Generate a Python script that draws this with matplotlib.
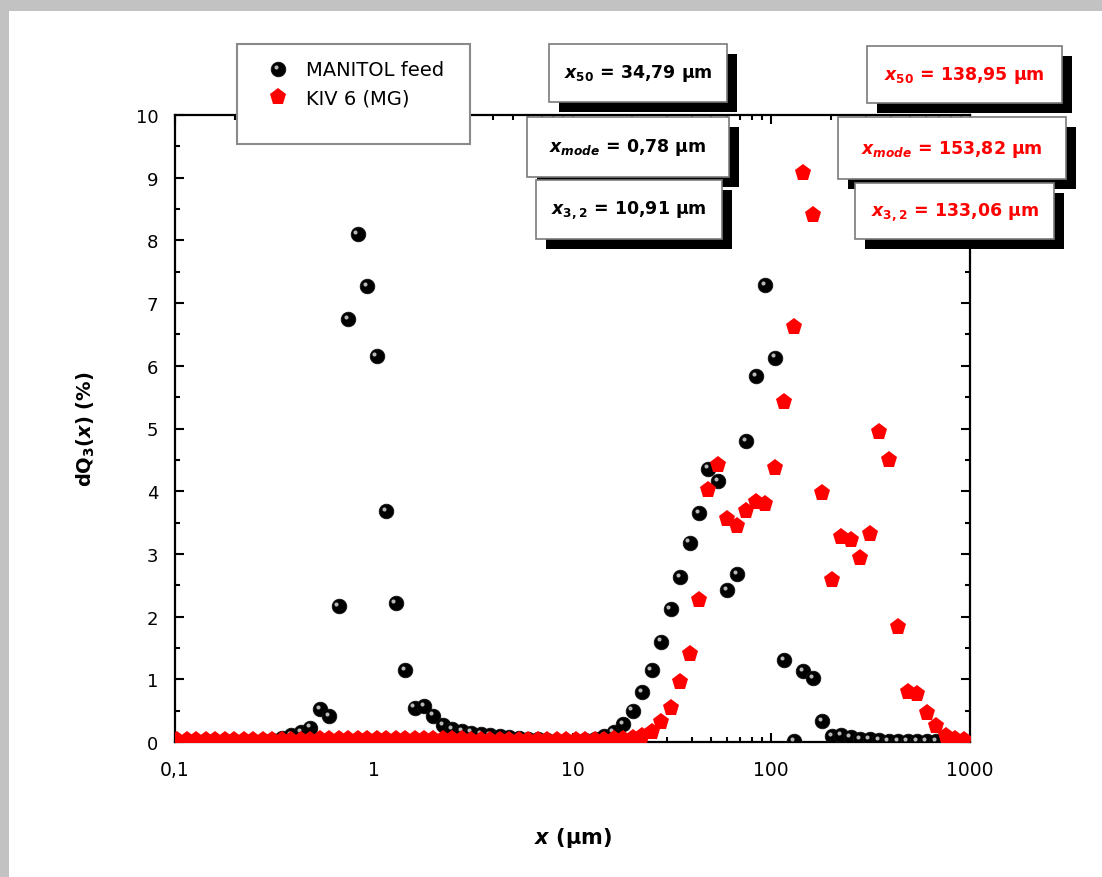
import matplotlib
matplotlib.use('Agg')
import numpy as np
import matplotlib.pyplot as plt
from matplotlib.patches import Rectangle
from matplotlib.ticker import LogLocator, NullFormatter, MultipleLocator
from matplotlib.transforms import offset_copy

plt.rcParams['font.family'] = ['DejaVu Sans']
plt.rcParams['mathtext.fontset'] = 'custom'
plt.rcParams['mathtext.rm'] = 'DejaVu Sans:bold'
plt.rcParams['mathtext.it'] = 'DejaVu Sans:italic:bold'
plt.rcParams['mathtext.bf'] = 'DejaVu Sans:bold'

# particle size classes (um)
size_um = [0.1029, 0.1149, 0.1282, 0.1431, 0.1597, 0.1783, 0.1990, 0.2221, 0.2478, 0.2766,
           0.3087, 0.3446, 0.3846, 0.4292, 0.4790, 0.5347, 0.5968, 0.6661, 0.7434, 0.8297,
           0.9261, 1.0336, 1.1536, 1.2875, 1.4370, 1.6039, 1.7901, 1.998, 2.230, 2.489,
           2.778, 3.100, 3.460, 3.862, 4.310, 4.811, 5.369, 5.993, 6.689, 7.465,
           8.332, 9.300, 10.38, 11.58, 12.93, 14.43, 16.11, 17.98, 20.06, 22.39,
           24.99, 27.90, 31.13, 34.75, 38.79, 43.29, 48.31, 53.92, 60.19, 67.17,
           74.97, 83.68, 93.40, 104.2, 116.3, 129.8, 144.9, 161.8, 180.5, 201.5,
           224.9, 251.0, 280.2, 312.7, 349.0, 389.6, 434.8, 485.3, 541.6, 604.5,
           674.7, 753.1, 840.5, 938.1]

# dQ3 (%) MANITOL feed
manitol_feed = [0.0, 0.0, 0.0, 0.0, 0.0, 0.0, 0.0, 0.0, 0.0, 0.0,
                0.03, 0.06, 0.11, 0.16, 0.23, 0.52, 0.41, 2.17, 6.75, 8.10,
                7.27, 6.15, 3.68, 2.22, 1.15, 0.55, 0.57, 0.42, 0.27, 0.20,
                0.17, 0.15, 0.13, 0.11, 0.09, 0.08, 0.06, 0.05, 0.04, 0.03,
                0.02, 0.02, 0.02, 0.03, 0.05, 0.10, 0.16, 0.29, 0.50, 0.80,
                1.15, 1.60, 2.12, 2.63, 3.18, 3.65, 4.36, 4.16, 2.42, 2.68,
                4.80, 5.83, 7.29, 6.13, 1.31, 0.02, 1.13, 1.02, 0.33, 0.09,
                0.11, 0.08, 0.05, 0.04, 0.03, 0.02, 0.02, 0.02, 0.02, 0.02,
                0.01, np.nan, np.nan, np.nan]

# dQ3 (%) KIV 6 (MG)
kiv6_mg = [0.03, 0.03, 0.03, 0.03, 0.03, 0.03, 0.03, 0.03, 0.03, 0.03,
           0.03, 0.03, 0.03, 0.03, 0.03, 0.05, 0.05, 0.05, 0.05, 0.05,
           0.05, 0.05, 0.05, 0.05, 0.05, 0.05, 0.05, 0.05, 0.05, 0.05,
           0.05, 0.03, 0.03, 0.03, 0.03, 0.03, 0.03, 0.03, 0.03, 0.03,
           0.03, 0.03, 0.03, 0.03, 0.03, 0.03, 0.04, 0.05, 0.07, 0.10,
           0.16, 0.32, 0.55, 0.95, 1.40, 2.27, 4.02, 4.42, 3.56, 3.44,
           3.68, 3.82, 3.79, 4.37, 5.43, 6.62, 9.08, 8.40, 3.97, 2.58,
           3.27, 3.22, 2.94, 3.31, 4.94, 4.49, 1.83, 0.80, 0.76, 0.47,
           0.25, 0.10, 0.05, 0.03]

labels = ['MANITOL feed', 'KIV 6 (MG)']
stats_black = [r'$x_{50}$ = 34,79 μm', r'$x_{mode}$ = 0,78 μm', r'$x_{3,2}$ = 10,91 μm']
stats_red = [r'$x_{50}$ = 138,95 μm', r'$x_{mode}$ = 153,82 μm', r'$x_{3,2}$ = 133,06 μm']

W, H = 1102, 878
fig = plt.figure(figsize=(W / 100, H / 100), dpi=100)

# page background with grey shadow border
bg = fig.add_axes([0, 0, 1, 1], zorder=-1)
bg.set_xlim(0, W)
bg.set_ylim(H, 0)
bg.axis('off')
bg.add_patch(Rectangle((0, 0), W, H, fc='#c2c2c2', ec='none'))
bg.add_patch(Rectangle((9, 12), W, H, fc='white', ec='none'))

ax = fig.add_axes([175 / W, 1 - 743 / H, 795 / W, 627 / H])


def balls(a, x, y, size, tr=None, z=3):
    tr = tr if tr is not None else a.transData
    a.plot(x, y, 'o', color='black', ms=size, mec='#111111', mew=0.6, transform=tr, zorder=z)
    hl = offset_copy(tr, fig=fig, x=-2.2, y=2.2, units='dots')
    a.plot(x, y, 'o', color='#b8b8b8', ms=size * 0.28, mew=0, transform=hl, zorder=z + 0.1)


balls(ax, size_um, manitol_feed, 10.5)
ax.plot(size_um, kiv6_mg, 'p', color='#ff0000', ms=12.5, mew=0, zorder=4)

ax.set_xscale('log')
ax.set_xlim(0.1, 1000)
ax.set_ylim(0, 10)
ax.set_xticks([0.1, 1, 10, 100, 1000])
ax.set_xticklabels(['0,1', '1', '10', '100', '1000'])
ax.xaxis.set_minor_locator(LogLocator(base=10, subs=np.arange(2, 10)))
ax.xaxis.set_minor_formatter(NullFormatter())
ax.yaxis.set_major_locator(MultipleLocator(1))
ax.yaxis.set_minor_locator(MultipleLocator(0.5))
ax.tick_params(which='both', direction='in', top=True, right=True, width=1.5)
ax.tick_params(which='major', length=6.5)
ax.tick_params(which='minor', length=3.5)
ax.tick_params(axis='x', which='major', labelsize=13.5, pad=13)
ax.tick_params(axis='y', which='major', labelsize=13, pad=12)
for s in ax.spines.values():
    s.set_linewidth(1.6)

ax.set_xlabel(r'$x$ (μm)', fontsize=15, fontweight='bold', labelpad=33)
ax.set_ylabel(r'dQ$_{\mathregular{3}}$($x$) (%)', fontsize=14, fontweight='bold', labelpad=28)

# overlay with legend and annotation boxes (pixel coordinates)
ov = fig.add_axes([0, 0, 1, 1])
ov.set_xlim(0, W)
ov.set_ylim(H, 0)
ov.axis('off')

ov.add_patch(Rectangle((237, 45), 233, 100, fc='white', ec='#8a8a8a', lw=1.5, zorder=5))
balls(ov, [278], [70], 10.5, z=6)
ov.plot([278], [98], 'p', color='#ff0000', ms=12.5, mew=0, zorder=6)
ov.text(306, 70, labels[0], fontsize=14, va='center', ha='left', zorder=7)
ov.text(306, 99, labels[1], fontsize=14, va='center', ha='left', zorder=7)

boxes_black = [(549, 45, 727, 103), (527, 118, 729, 178), (536, 181, 722, 240)]
boxes_red = [(867, 47, 1062, 104), (838, 118, 1066, 180), (855, 184, 1054, 240)]


def stat_box(b, txt, col):
    x0, y0, x1, y1 = b
    ov.add_patch(Rectangle((x0 + 10, y0 + 10), x1 - x0, y1 - y0, fc='black', ec='none', zorder=5))
    ov.add_patch(Rectangle((x0, y0), x1 - x0, y1 - y0, fc='white', ec='#7a7a7a', lw=1.2, zorder=6))
    ov.text((x0 + x1) / 2, (y0 + y1) / 2, txt, color=col, fontsize=12.5, fontweight='bold',
            ha='center', va='center', zorder=7)


for b, t in zip(boxes_black, stats_black):
    stat_box(b, t, 'black')
for b, t in zip(boxes_red, stats_red):
    stat_box(b, t, '#ff0000')

fig.savefig('out.png', dpi=100)
